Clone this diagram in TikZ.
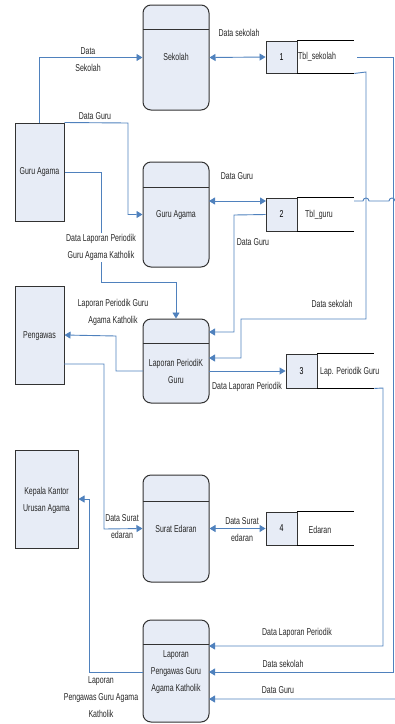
\documentclass[tikz,border=0pt]{standalone}
\usepackage{fontspec}
\setmainfont{Liberation Sans}[FakeStretch=0.7]
\usetikzlibrary{arrows.meta,calc}
\definecolor{flowc}{RGB}{79,129,189}
\definecolor{boxfill}{RGB}{231,236,246}
\definecolor{boxline}{RGB}{50,50,50}
\tikzset{
  txt/.style={inner sep=0pt,font=\fontsize{10}{17}\selectfont,align=center,text=black!85},
  ent/.style={draw=boxline,line width=1pt,fill=boxfill,inner sep=0pt},
  proc/.style={draw=boxline,line width=1pt,fill=boxfill,rounded corners=8pt,inner sep=0pt,minimum width=66pt},
  numbox/.style={draw=boxline,line width=0.9pt,fill=boxfill,inner sep=0pt,minimum width=31pt,font=\fontsize{10}{11}\selectfont},
  storeline/.style={line width=1.6pt,black},
  flow/.style={draw=flowc,line width=0.9pt,-{Triangle[length=6pt,width=7pt]}},
  dflow/.style={draw=flowc,line width=0.9pt,{Triangle[length=6pt,width=7pt]}-{Triangle[length=6pt,width=7pt]}},
  plain/.style={draw=flowc,line width=0.9pt},
}
\begin{document}
\begin{tikzpicture}[x=1pt,y=-1pt]
\useasboundingbox (0,0) rectangle (395,724);
\clip (0,0) rectangle (395,724);
% external entities
\node[ent,minimum width=49pt,minimum height=98pt] (ga) at (39.5,172) {};
\node[txt] (gat) at (ga.center) {Guru Agama};
\node[ent,minimum width=49pt,minimum height=98pt] (pw) at (39.5,335) {};
\node[txt] (pwt) at (39.5,336) {Pengawas};
\node[ent,minimum width=63pt,minimum height=98pt] (kk) at (46.5,499) {};
\node[txt] (kkt) at (46.5,500.5) {Kepala Kantor\\Urusan Agama};
% processes
\node[proc,minimum height=105pt] (sek) at (176,57.5) {};
\draw[boxline,line width=1pt] (143,29) -- (209,29);
\node[txt] (sekt) at (176,57) {Sekolah};
\node[proc,minimum height=105pt] (gap) at (176,214.5) {};
\draw[boxline,line width=1pt] (143,187) -- (209,187);
\node[txt] (gapt) at (176,215) {Guru Agama};
\node[proc,minimum height=84pt] (lpg) at (176,361) {};
\draw[boxline,line width=1pt] (143,343) -- (209,343);
\node[txt] (lpgt) at (176,371) {Laporan PeriodiK\\Guru};
\node[proc,minimum height=107pt] (se) at (176,528.5) {};
\draw[boxline,line width=1pt] (143,501) -- (209,501);
\node[txt] (set) at (176,529) {Surat Edaran};
\node[proc,minimum height=102pt] (lpa) at (176,671) {};
\draw[boxline,line width=1pt] (143,644) -- (209,644);
\node[txt] (lpat) at (176,672) {Laporan\\Pengawas Guru\\Agama Katholik};
% data stores
\node[numbox,minimum height=32pt] (s1) at (281.5,57) {1};
\draw[storeline] (s1.north east) -- ++(57,0) coordinate (s1a);
\draw[storeline] (s1.south east) -- ++(57,0) coordinate (s1b);
\node[txt,anchor=west] (s1t) at (298,57) {Tbl\_sekolah};
\node[numbox,minimum height=33pt] (s2) at (281.5,214.5) {2};
\draw[storeline] (s2.north east) -- ++(57,0) coordinate (s2a);
\draw[storeline] (s2.south east) -- ++(57,0) coordinate (s2b);
\node[txt,anchor=west] (s2t) at (305,215) {Tbl\_guru};
\node[numbox,minimum height=34pt] (s3) at (301.5,371) {3};
\draw[storeline] (s3.north east) -- ++(57,0) coordinate (s3a);
\draw[storeline] (s3.south east) -- ++(57,0) coordinate (s3b);
\node[txt,anchor=west] (s3t) at (320,372) {Lap. Periodik Guru};
\node[numbox,minimum height=33pt] (s4) at (281.5,528.5) {4};
\draw[storeline] (s4.north east) -- ++(57,0) coordinate (s4a);
\draw[storeline] (s4.south east) -- ++(57,0) coordinate (s4b);
\node[txt] (s4t) at (320,530) {Edaran};
% flows
\draw[flow] (ga.north) |- (sek.west);
\node[txt] (l1) at (88,59.5) {Data\\Sekolah};
\draw[flow] (ga.north east) -- (128,123) |- (gap.west);
\node[txt] (l2) at (95,116) {Data Guru};
\draw[flow] (ga.east) -| (101,282) -| (lpg.north);
\node[txt,fill=white,inner sep=1pt] (l3) at (101,247.5) {Data Laporan Periodik\\Guru Agama Katholik};
\draw[dflow] (sek.east) -- (s1.west);
\node[txt] (l4) at (239,33) {Data sekolah};
\draw[dflow] (209,201) -- (266,201);
\node[txt] (l5) at (237,176) {Data Guru};
\draw[flow] (s2.west) -- (234,215) |- (209,332);
\node[txt] (l6) at (253,242) {Data Guru};
\draw[flow] (s1b) -- (366,72) |- (241,319) |- (209,358);
\node[txt] (l7) at (332,304) {Data sekolah};
\draw[flow] (209,371) -- (s3.west);
\node[txt] (l8) at (247,387) {Data Laporan Periodik};
\draw[flow] (143,371) -| (116,336) -- (pw.east);
\node[txt] (l9) at (113,312.5) {Laporan Periodik Guru\\Agama Katholik};
\draw[flow] (64,364) -| (104,529) -- (se.west);
\node[txt] (l10) at (122,527) {Data Surat\\edaran};
\draw[dflow] (se.east) -- (s4.west);
\node[txt] (l11) at (242,529.5) {Data Surat\\edaran};
\draw[flow] (143,672) -| (89,499) -- (kk.east);
\node[txt] (l12) at (101,697.5) {Laporan\\Pengawas Guru Agama\\Katholik};
\draw[flow] (s3b) -- (383,388) |- (209,646);
\node[txt] (l13) at (297,633) {Data Laporan Periodik};
\draw[flow] (357,57) -- (393,57) |- (209,672);
\node[txt] (l14) at (283,664) {Data sekolah};
\draw[flow] (354,201) -- (363,201) arc (180:360:3) -- (389,201) arc (180:360:3) -- (398,201) |- (209,699);
\node[txt] (l15) at (278,690) {Data Guru};
\end{tikzpicture}
\end{document}
